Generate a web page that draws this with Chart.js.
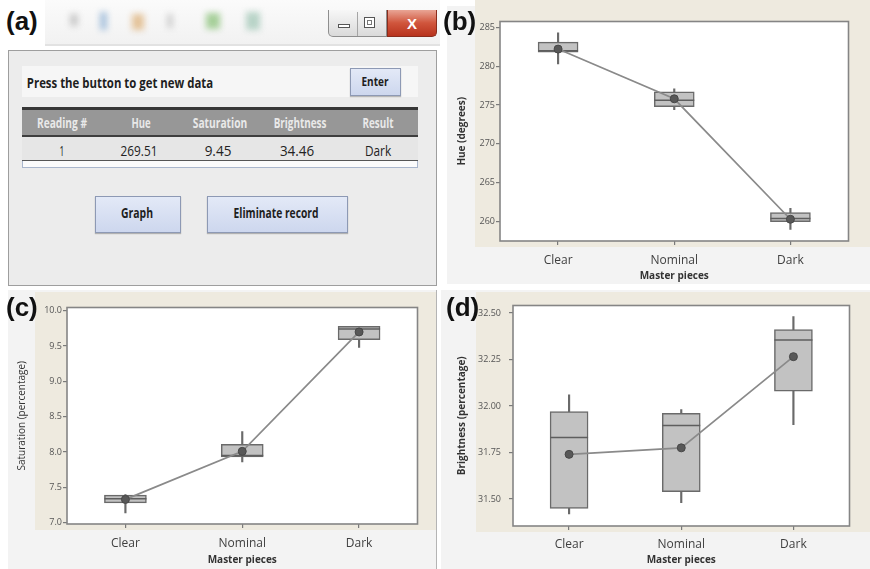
<!DOCTYPE html>
<html><head><meta charset="utf-8">
<script src="https://cdn.jsdelivr.net/npm/chart.js@4.4.1/dist/chart.umd.min.js"></script>
<style>
html,body{margin:0;padding:0;background:#fff;}
body{width:870px;height:569px;position:relative;overflow:hidden;font-family:'Open Sans',sans-serif;}
.abs{position:absolute;}
.t{position:absolute;white-space:nowrap;line-height:1;transform-origin:center center;}
.lbl{position:absolute;font-family:'Liberation Sans',Arial,sans-serif;font-weight:bold;font-size:26px;color:#111;line-height:1;}
.btn{position:absolute;background:linear-gradient(#e3e9f7,#cdd7ee);border:1px solid #8d99b4;box-shadow:0 1px 1px rgba(0,0,0,.25);}
canvas{position:absolute;}
</style></head><body>

<!-- panel backgrounds for (b), (c), (d) -->
<div class="abs" style="left:447px;top:6px;width:423px;height:278px;background:#f3f3f3"></div>
<div class="abs" style="left:475px;top:0;width:395px;height:247px;background:#eeeadf"></div>
<div class="abs" style="left:8px;top:290px;width:429px;height:279px;background:#f3f3f3"></div>
<div class="abs" style="left:35px;top:292px;width:402px;height:238px;background:#eeeadf"></div>
<div class="abs" style="left:436px;top:290px;width:1px;height:279px;background:#b4b4b4"></div>
<div class="abs" style="left:441px;top:290px;width:429px;height:279px;background:#f3f3f3"></div>
<div class="abs" style="left:476px;top:292px;width:394px;height:240px;background:#eeeadf"></div>

<!-- panel (a): application window -->
<div class="abs" style="left:45px;top:0;width:395px;height:46px;background:linear-gradient(#fbfbfb,#f1f1f1)"></div>
<div class="abs" style="left:0;top:0;width:300px;height:40px;filter:blur(3px)">
  <div class="abs" style="left:70px;top:14px;width:8px;height:12px;background:#c9c9c9"></div>
  <div class="abs" style="left:100px;top:12px;width:7px;height:18px;background:#a8c2dc"></div>
  <div class="abs" style="left:132px;top:14px;width:12px;height:16px;background:#e4c39a"></div>
  <div class="abs" style="left:167px;top:14px;width:6px;height:14px;background:#d0d0d0"></div>
  <div class="abs" style="left:206px;top:13px;width:14px;height:16px;background:#a6cf99"></div>
  <div class="abs" style="left:246px;top:12px;width:14px;height:18px;background:#b8d3c7"></div>
</div>
<div class="abs" style="left:328px;top:10px;width:59px;height:27px;box-sizing:border-box;border:1px solid #8e8e8e;border-top:none;border-radius:0 0 0 5px;background:linear-gradient(#f7f7f7,#dadada)"></div>
<div class="abs" style="left:357px;top:12px;width:1px;height:24px;background:#a5a5a5"></div>
<div class="abs" style="left:338px;top:24px;width:12px;height:4px;box-sizing:border-box;border:1px solid #555;background:#fff"></div>
<div class="abs" style="left:364px;top:17px;width:11px;height:11px;box-sizing:border-box;border:1px solid #555;background:#fff"></div>
<div class="abs" style="left:367px;top:20px;width:5px;height:5px;box-sizing:border-box;border:1px solid #777"></div>
<div class="abs" style="left:387px;top:10px;width:50px;height:27px;box-sizing:border-box;border:1px solid #8a2c1c;border-top:none;border-radius:0 0 5px 0;background:linear-gradient(#e9a595,#d0553c 50%,#b8331d)"></div>
<div class="t" style="left:412px;top:23px;font-family:'Liberation Sans',sans-serif;font-weight:bold;font-size:15px;color:#fff;transform:translate(-50%,-50%)">X</div>
<div class="abs" style="left:45px;top:44px;width:395px;height:2px;background:#e2e2e2"></div>

<div class="abs" style="left:8px;top:50px;width:429px;height:236px;box-sizing:border-box;border:1px solid #9e9e9e;background:#ececec"></div>
<div class="abs" style="left:22px;top:66px;width:396px;height:31px;background:#f6f6f6"></div>
<div class="t" data-w="186" data-x="120" style="top:82px;font-weight:bold;font-size:15px;color:#1e1e1e">Press the button to get new data</div>
<div class="btn" style="left:350px;top:68px;width:49px;height:26px"></div>
<div class="t" data-w="27" data-x="375" style="top:81px;font-weight:bold;font-size:13px;color:#1e1e1e">Enter</div>

<div class="abs" style="left:22px;top:107px;width:396px;height:3px;background:#363636"></div>
<div class="abs" style="left:22px;top:110px;width:396px;height:25px;background:#979797"></div>
<div class="abs" style="left:22px;top:135px;width:396px;height:2px;background:#3e3e3e"></div>
<div class="abs" style="left:22px;top:137px;width:396px;height:23px;background:#e6e6e6"></div>
<div class="abs" style="left:22px;top:160px;width:396px;height:1px;background:#555"></div>
<div class="abs" style="left:22px;top:161px;width:396px;height:7px;box-sizing:border-box;border:1px solid #a9b6cc;border-top:none;background:#fbfbfb"></div>

<div class="t" data-w="50" data-x="62" style="top:123px;font-weight:bold;font-size:14px;color:#e9e9e9">Reading #</div>
<div class="t" data-w="19" data-x="141" style="top:123px;font-weight:bold;font-size:14px;color:#e9e9e9">Hue</div>
<div class="t" data-w="54" data-x="220" style="top:123px;font-weight:bold;font-size:14px;color:#e9e9e9">Saturation</div>
<div class="t" data-w="53" data-x="300" style="top:123px;font-weight:bold;font-size:14px;color:#e9e9e9">Brightness</div>
<div class="t" data-w="31" data-x="378" style="top:123px;font-weight:bold;font-size:14px;color:#e9e9e9">Result</div>

<div class="t" data-w="5" data-x="62" style="top:150px;font-size:15px;color:#222">1</div>
<div class="t" data-w="37" data-x="139" style="top:150px;font-size:15px;color:#222">269.51</div>
<div class="t" data-w="27" data-x="218" style="top:150px;font-size:15px;color:#222">9.45</div>
<div class="t" data-w="34" data-x="297" style="top:150px;font-size:15px;color:#222">34.46</div>
<div class="t" data-w="26" data-x="378" style="top:150px;font-size:15px;color:#222">Dark</div>

<div class="btn" style="left:95px;top:196px;width:84px;height:35px"></div>
<div class="t" data-w="32" data-x="137" style="top:213px;font-weight:bold;font-size:14px;color:#1e1e1e">Graph</div>
<div class="btn" style="left:207px;top:196px;width:139px;height:35px"></div>
<div class="t" data-w="85" data-x="276" style="top:213px;font-weight:bold;font-size:14px;color:#1e1e1e">Eliminate record</div>

<!-- charts -->
<canvas id="cb" width="430" height="287" style="left:440px;top:0"></canvas>
<canvas id="cc" width="440" height="284" style="left:0;top:285px"></canvas>
<canvas id="cd" width="430" height="284" style="left:440px;top:285px"></canvas>

<div class="lbl" style="left:6px;top:8px">(a)</div>
<div class="lbl" style="left:443px;top:8px">(b)</div>
<div class="lbl" style="left:6px;top:294px">(c)</div>
<div class="lbl" style="left:446px;top:294px">(d)</div>

<script>
// ---------------- data ----------------
const categories = ['Clear', 'Nominal', 'Dark'];

// (b) Hue (degrees)
const hueQ1     = [281.8, 274.8, 260.0];
const hueQ3     = [283.1, 276.7, 261.15];
const hueMedian = [282.0, 275.6, 260.4];
const hueLow    = [280.3, 274.4, 259.0];
const hueHigh   = [284.3, 277.1, 261.7];
const hueMean   = [282.2, 275.8, 260.3];
const hueTicks  = [260, 265, 270, 275, 280, 285];

// (c) Saturation (percentage)
const satQ1     = [7.28, 7.93, 9.59];
const satQ3     = [7.39, 8.11, 9.78];
const satMedian = [7.34, 7.95, 9.74];
const satLow    = [7.14, 7.86, 9.48];
const satHigh   = [7.40, 8.29, 9.78];
const satMean   = [7.33, 8.01, 9.70];
const satTicks  = [7.0, 7.5, 8.0, 8.5, 9.0, 9.5, 10.0];

// (d) Brightness (percentage)
const briQ1     = [31.45, 31.54, 32.08];
const briQ3     = [31.97, 31.96, 32.41];
const briMedian = [31.83, 31.895, 32.355];
const briLow    = [31.42, 31.48, 31.90];
const briHigh   = [32.06, 31.98, 32.48];
const briMean   = [31.74, 31.775, 32.265];
const briTicks  = [31.50, 31.75, 32.00, 32.25, 32.50];

// ---------------- text fitting for panel (a) ----------------
document.querySelectorAll('[data-w]').forEach(el => {
  const nat = el.offsetWidth;
  const w = +el.dataset.w;
  el.style.left = el.dataset.x + 'px';
  el.style.transform = 'translate(-50%,-50%) scaleX(' + (w / nat) + ')';
});

// ---------------- charts ----------------
Chart.defaults.font.family = "'Open Sans', sans-serif";

const framePlugin = {
  id: 'frame',
  beforeDraw(chart) {
    const a = chart.chartArea, ctx = chart.ctx;
    ctx.save(); ctx.fillStyle = '#ffffff';
    ctx.fillRect(a.left, a.top, a.right - a.left, a.bottom - a.top);
    ctx.restore();
  },
  afterDatasetsDraw(chart) {
    const a = chart.chartArea, ctx = chart.ctx;
    ctx.save(); ctx.strokeStyle = '#858585'; ctx.lineWidth = 1.6;
    ctx.strokeRect(a.left, a.top, a.right - a.left, a.bottom - a.top);
    ctx.restore();
  }
};

function makePanel(id, d) {
  const boxes = categories.map((c, i) => [d.q1[i], d.q3[i]]);
  const whiskers = categories.map((c, i) => [d.low[i], d.high[i]]);
  return new Chart(document.getElementById(id), {
    type: 'bar',
    data: {
      labels: categories,
      datasets: [
        { type: 'line', data: d.mean, borderColor: '#8a8a8a', borderWidth: 1.7,
          pointRadius: 4, pointBackgroundColor: '#585858', pointBorderColor: '#474747', pointBorderWidth: 1, order: 0 },
        { type: 'line', data: d.median, showLine: false, pointStyle: 'line', pointRadius: d.boxW / 2,
          pointBorderColor: '#5e5e5e', pointBorderWidth: 1.5, order: 1 },
        { type: 'bar', data: boxes, barThickness: d.boxW, backgroundColor: '#c2c2c2',
          borderColor: '#6a6a6a', borderWidth: 1.5, borderSkipped: false, grouped: false, order: 2 },
        { type: 'bar', data: whiskers, barThickness: 1.5, backgroundColor: '#6a6a6a', grouped: false, order: 3 }
      ]
    },
    options: {
      responsive: false, animation: false, events: [],
      layout: { padding: { left: 0, right: d.padR, top: d.padT, bottom: 0 } },
      plugins: { legend: { display: false }, tooltip: { enabled: false } },
      scales: {
        x: {
          type: 'category', offset: true,
          grid: { display: true, offset: false, drawOnChartArea: false, drawTicks: true, tickLength: 4, color: '#7a7a7a', lineWidth: 1.2 },
          border: { display: false },
          ticks: { color: '#404040', font: { size: 12 }, padding: d.xPad, maxRotation: 0 },
          title: { display: true, text: 'Master pieces', color: '#333', font: { size: 10, weight: 'bold' }, padding: { top: 0, bottom: d.titleB } },
          afterFit: s => { s.height = d.xH; }
        },
        y: {
          min: d.min, max: d.max,
          afterBuildTicks: s => { s.ticks = d.ticks.map(v => ({ value: v })); },
          grid: { display: true, drawOnChartArea: false, drawTicks: true, tickLength: 4, color: '#7a7a7a', lineWidth: 1.2 },
          border: { display: false },
          ticks: { color: '#555', font: { size: 9 }, padding: d.yPad, callback: v => Number(v).toFixed(d.dec) },
          title: { display: true, text: d.yTitle, color: '#333', font: { size: 10, weight: d.yWeight }, padding: { top: 16, bottom: 0 } },
          afterFit: s => { s.width = d.yW; }
        }
      }
    },
    plugins: [framePlugin]
  });
}

makePanel('cb', { q1: hueQ1, q3: hueQ3, median: hueMedian, low: hueLow, high: hueHigh, mean: hueMean, ticks: hueTicks,
  min: 257.5, max: 285.75, dec: 0, yTitle: 'Hue (degrees)', yWeight: 'bold', boxW: 40,
  yW: 60, padR: 15, padT: 13, xH: 46, xPad: 8, titleB: 5, yPad: 1 });

makePanel('cc', { q1: satQ1, q3: satQ3, median: satMedian, low: satLow, high: satHigh, mean: satMean, ticks: satTicks,
  min: 6.982, max: 10.046, dec: 1, yTitle: 'Saturation (percentage)', yWeight: 'normal', boxW: 42,
  yW: 67, padR: 21, padT: 13, xH: 45, xPad: 8, titleB: 3, yPad: 1 });

makePanel('cd', { q1: briQ1, q3: briQ3, median: briMedian, low: briLow, high: briHigh, mean: briMean, ticks: briTicks,
  min: 31.355, max: 32.54, dec: 2, yTitle: 'Brightness (percentage)', yWeight: 'bold', boxW: 38,
  yW: 73, padR: 15, padT: 14, xH: 43, xPad: 7, titleB: 3, yPad: 8 });
</script>
</body></html>
